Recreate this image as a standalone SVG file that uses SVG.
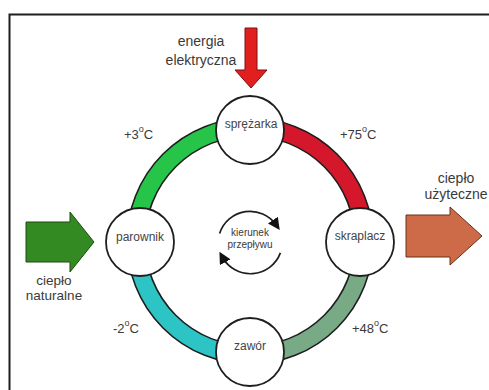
<svg xmlns="http://www.w3.org/2000/svg" width="489" height="390" viewBox="0 0 489 390">
<defs>
<style>
.txt{font-family:"Liberation Sans",Arial,sans-serif;fill:#3a3a3a;}
.lbl{font-size:14px;text-anchor:middle;}
.node circle{fill:#ffffff;stroke:#1e1e1e;stroke-width:1.8;}
.node text{font-family:"Liberation Sans",Arial,sans-serif;font-size:12px;fill:#444;text-anchor:middle;}
.band{stroke:#1e1e1e;stroke-width:1.6;}
.temp{font-size:13px;}
.flow{fill:none;stroke:#1e1e1e;stroke-width:1.7;}
</style>
<marker id="ah" viewBox="0 0 10 10" refX="5" refY="5" markerWidth="12" markerHeight="12" orient="auto" markerUnits="userSpaceOnUse">
<path d="M0,0 L10,5 L0,10 Z" fill="#111"/>
</marker>
</defs>
<rect x="9.5" y="14.5" width="490" height="390" fill="#ffffff" stroke="#1e1e1e" stroke-width="2"/>

<g id="connectors">
<path class="band" fill="#27c44a" d="M127,241 A123,123 0 0 1 250,118 L250,136 A105,105 0 0 0 145,241 Z"/>
<path class="band" fill="#d5172b" d="M250,118 A123,123 0 0 1 373,241 L355,241 A105,105 0 0 0 250,136 Z"/>
<path class="band" fill="#78aa86" d="M373,241 A123,123 0 0 1 250,364 L250,346 A105,105 0 0 0 355,241 Z"/>
<path class="band" fill="#2cc4c4" d="M250,364 A123,123 0 0 1 127,241 L145,241 A105,105 0 0 0 250,346 Z"/>
</g>

<g id="energia">
<path d="M245,28 L257,28 L257,70 L267,70 L251,88 L235,70 L245,70 Z" fill="#e21f1f" stroke="#7a1010" stroke-width="1"/>
<text class="txt lbl" x="201" y="46">energia</text>
<text class="txt lbl" x="201" y="65">elektryczna</text>
</g>

<g id="cieplo-naturalne">
<path d="M26,222 L70,222 L70,212 L94,242 L70,272 L70,262 L26,262 Z" fill="#348a22" stroke="#1d4a12" stroke-width="1"/>
<text class="txt lbl" x="54" y="285" style="font-size:13.5px">ciepło</text>
<text class="txt lbl" x="54" y="300" style="font-size:13.5px">naturalne</text>
</g>

<g id="cieplo-uzyteczne">
<path d="M406,215 L450,215 L450,207 L482,236 L450,265 L450,257 L406,257 Z" fill="#cd6a48" stroke="#6a3018" stroke-width="1"/>
<text class="txt lbl" x="456" y="183">ciepło</text>
<text class="txt lbl" x="456" y="199">użyteczne</text>
</g>

<g id="temps">
<text class="txt temp" x="124" y="139">+3<tspan dy="-7" font-size="9">o</tspan><tspan dy="7">C</tspan></text>
<text class="txt temp" x="340" y="139">+75<tspan dy="-7" font-size="9">o</tspan><tspan dy="7">C</tspan></text>
<text class="txt temp" x="113" y="333">-2<tspan dy="-7" font-size="9">o</tspan><tspan dy="7">C</tspan></text>
<text class="txt temp" x="352" y="333">+48<tspan dy="-7" font-size="9">o</tspan><tspan dy="7">C</tspan></text>
</g>

<g id="kierunek">
<path class="flow" d="M219.6,233.5 A32,32 0 0 1 276.3,225" marker-end="url(#ah)"/>
<path class="flow" d="M280.4,252.9 A32,32 0 0 1 222.3,257" marker-end="url(#ah)"/>
<text class="txt" x="250" y="236" style="font-size:10px;text-anchor:middle">kierunek</text>
<text class="txt" x="250" y="248" style="font-size:10px;text-anchor:middle">przepływu</text>
</g>

<g id="sprezarka" class="node"><circle cx="250" cy="130" r="34"/><text x="251" y="128">sprężarka</text></g>
<g id="parownik" class="node"><circle cx="140" cy="242" r="34"/><text x="140" y="241">parownik</text></g>
<g id="skraplacz" class="node"><circle cx="360" cy="242" r="34"/><text x="360" y="240">skraplacz</text></g>
<g id="zawor" class="node"><circle cx="250" cy="352" r="34"/><text x="250" y="350">zawór</text></g>
</svg>
